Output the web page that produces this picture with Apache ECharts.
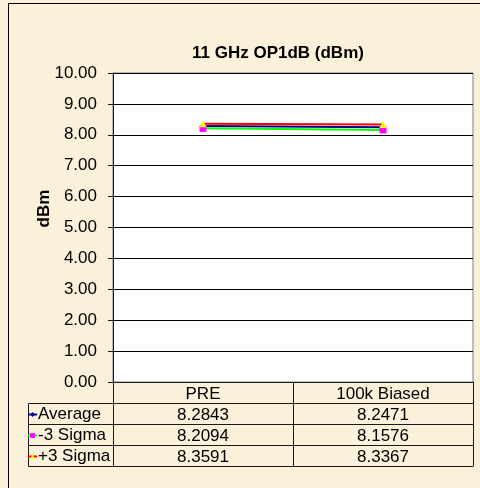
<!DOCTYPE html>
<html>
<head>
<meta charset="utf-8">
<script src="https://cdn.jsdelivr.net/npm/echarts@6/dist/echarts.min.js"></script>
<style>
  html, body { margin: 0; padding: 0; background: #fbf0d9; }
  #main { width: 480px; height: 488px; }
</style>
</head>
<body>
<div id="main"></div>
<script>
const categories = ['PRE', '100k Biased'];
const seriesNames = ['Average', '-3 Sigma', '+3 Sigma'];
const avgValues = [8.2843, 8.2471];
const minusSigma = [8.2094, 8.1576];
const plusSigma = [8.3591, 8.3367];
const yTicks = { min: 0, max: 10, interval: 1 };

const chart = echarts.init(document.getElementById('main'));

const font = 'Liberation Sans, Arial, sans-serif';
const lineCol = '#1a1a1a';
const fs = 17;

// one category axis per table row, stacked under the plot
const tableRows = [categories, avgValues.map(v => v.toFixed(4)), minusSigma.map(v => v.toFixed(4)), plusSigma.map(v => v.toFixed(4))];
const rowH = 21;
const xAxes = tableRows.map((row, i) => ({
    type: 'category',
    data: categories,
    position: 'bottom',
    offset: i * rowH,
    axisLine: { show: true, lineStyle: { color: lineCol, width: 1 } },
    axisTick: { show: true, interval: 0, length: rowH, lineStyle: { color: lineCol, width: 1 } },
    axisLabel: {
        interval: 0, margin: 4, color: '#000', fontSize: fs, fontFamily: font,
        formatter: (v, idx) => String(row[idx])
    },
    splitLine: { show: false }
}));
// bottom edge of the table
xAxes.push({
    type: 'category', data: categories, position: 'bottom', offset: tableRows.length * rowH,
    axisLine: { show: true, lineStyle: { color: lineCol, width: 1 } },
    axisTick: { show: false }, axisLabel: { show: false }
});

const option = {
    backgroundColor: '#fbf0d9',
    animation: false,
    title: {
        text: '11 GHz OP1dB (dBm)',
        left: 187, top: 40,
        textStyle: { fontSize: fs, fontWeight: 'bold', color: '#000', fontFamily: font }
    },
    legend: {
        orient: 'vertical',
        left: 22, top: 399,
        itemWidth: 9, itemHeight: 6, itemGap: 0,
        data: seriesNames,
        textStyle: { fontSize: fs, color: '#000', fontFamily: font, lineHeight: 21, padding: [0, 0, 0, -4] }
    },
    grid: {
        left: 113, right: 7, top: 73, bottom: 106,
        show: true, backgroundColor: '#fff', borderColor: '#808080', borderWidth: 1
    },
    xAxis: xAxes,
    yAxis: {
        type: 'value',
        min: yTicks.min, max: yTicks.max, interval: yTicks.interval,
        name: 'dBm', nameLocation: 'middle', nameGap: 60, nameRotate: 90,
        nameMoveOverlap: false,
        nameTextStyle: { fontSize: fs, fontWeight: 'bold', color: '#000', fontFamily: font, padding: [0, 0, 0, 38] },
        axisLine: { show: true, lineStyle: { color: lineCol } },
        axisTick: { show: true, length: 5, lineStyle: { color: lineCol } },
        axisLabel: { margin: 16, fontSize: fs, color: '#000', fontFamily: font, formatter: v => v.toFixed(2) },
        splitLine: { show: true, lineStyle: { color: '#000', width: 1 } }
    },
    series: [
        {
            name: seriesNames[0], type: 'line', data: avgValues,
            symbol: 'diamond', symbolSize: 4,
            lineStyle: { color: '#000080', width: 2 }, itemStyle: { color: '#000080' }
        },
        {
            name: seriesNames[1], type: 'line', data: minusSigma,
            symbol: 'rect', symbolSize: 7,
            lineStyle: { color: '#00ff00', width: 2 }, itemStyle: { color: '#ff00ff' }
        },
        {
            name: seriesNames[2], type: 'line', data: plusSigma,
            symbol: 'triangle', symbolSize: 7,
            lineStyle: { color: '#ff0000', width: 2 }, itemStyle: { color: '#ffff00' }
        }
    ],
    graphic: [
        // chart frame (only top and left edges are inside the window)
        { type: 'rect', shape: { x: 8.5, y: 3.5, width: 500, height: 500 }, style: { fill: null, stroke: '#000', lineWidth: 1 }, silent: true },
        // row-label column of the data table
        { type: 'rect', shape: { x: 28.5, y: 403.5, width: 85, height: 63 }, style: { fill: null, stroke: lineCol, lineWidth: 1 }, silent: true },
        { type: 'line', shape: { x1: 28, y1: 424.5, x2: 113, y2: 424.5 }, style: { stroke: lineCol, lineWidth: 1 }, silent: true },
        { type: 'line', shape: { x1: 28, y1: 445.5, x2: 113, y2: 445.5 }, style: { stroke: lineCol, lineWidth: 1 }, silent: true }
    ]
};
chart.setOption(option);
</script>
</body>
</html>
